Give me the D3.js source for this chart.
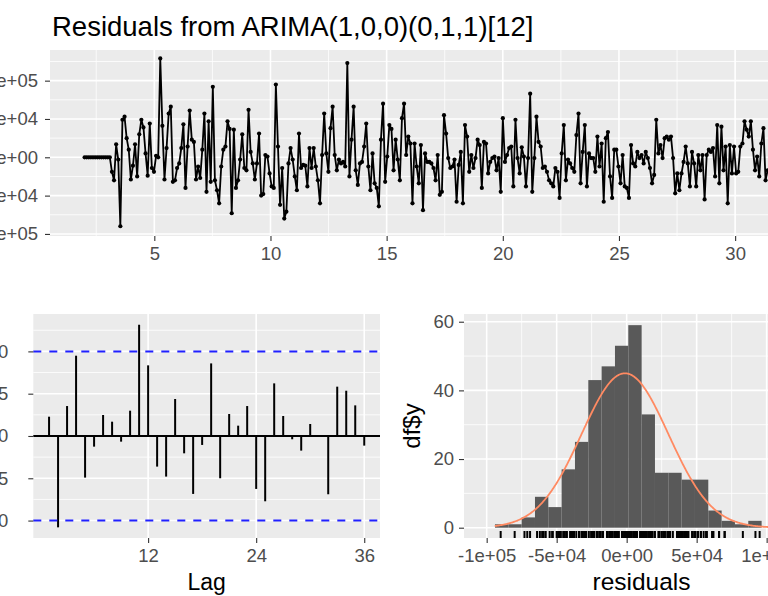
<!DOCTYPE html>
<html>
<head>
<meta charset="utf-8">
<script src="https://cdn.jsdelivr.net/npm/d3@7"></script>
<style>
  body { margin: 0; background: #fff; }
  svg { display: block; font-family: "Liberation Sans", Arial, sans-serif; }
</style>
</head>
<body>
<svg id="chart" width="768" height="596"></svg>
<script>
// ---------------- data ----------------
const residStart = 2;      // time of first residual (years)
const residEnd = 31.4;     // time of the last residual still visible
const residUnit = 1e4;     // residuals below are in units of 1e4
const resid = [
  0,0,0,0,0,0,0,0,0,0,0,0,0,
  -1.9,-3.0,1.7,-0.3,-9.0,4.9,5.3,2.5,1.0,-2.9,
  -1.1,1.7,-2.5,3.0,4.9,3.9,0.5,-2.4,4.4,-1.4,
  -1.9,0.2,0,12.9,4.1,-2.9,1.2,5.7,6.6,-3.2,
  -3.0,-1.4,-0.8,1.2,4.3,-4.0,1.4,6.1,2.3,2.0,
  -2.9,-1.2,-2.7,1.0,5.7,-4.5,4.7,-3.2,9.2,-3.0,
  -4.3,-6.0,-1.2,1.0,1.4,4.7,3.7,-7.3,3.6,-4.0,
  -3.0,-0.3,3.0,-1.4,-1.7,6.2,0.7,-0.8,-2.9,-0.8,
  3.1,-5.0,-4.8,0.3,0.1,-2.1,-3.8,-4.0,9.5,1.4,
  -6.2,-1.4,-8.0,-7.1,-0.8,1.2,-0.3,-2.5,-4.3,3.1,
  -1.4,-1.0,-1.1,-3.8,1.2,-1.4,1.2,-1.2,-3.0,-6.0,
  0.3,5.7,0.5,-1.9,3.8,6.6,0.3,-1.7,-0.3,-0.8,
  -0.6,-1.2,12.3,-2.5,2.3,6.6,-1.7,-3.6,-0.8,-0.6,
  1.4,4.4,-1.2,-4.3,0.5,-3.4,-4.0,-6.4,2.3,7.0,
  -3.2,0.1,4.2,3.7,-1.7,2.3,
  -0.3,-3.0,5.1,7.0,0.3,2.7,1.8,-6.0,1.8,-1.2,
  -3.4,1.6,-6.9,0.5,-0.6,-0.6,-0.8,-1.4,-3.0,0.3,
  -4.9,-4.5,5.5,3.1,-0.1,-1.4,-1.2,-0.3,-5.8,-1.0,
  0.7,-6.0,4.2,2.7,-1.9,0.3,-1.4,-0.1,2.3,1.6,
  -4.0,2.0,1.8,-2.1,-0.6,-0.1,0.1,-1.7,-0.1,-4.5,
  5.1,-0.6,0.3,1.2,1.4,-3.8,4.9,-0.1,-2.1,1.3,
  0.1,-3.8,-0.1,8.3,-4.5,-0.1,5.3,2.0,1.4,-1.4,
  -1.2,-1.9,-3.0,-3.4,-3.8,-1.4,-1.9,-5.3,0.5,4.2,
  -3.0,-0.3,-0.8,-1.4,-1.9,2.9,5.7,-3.4,0.7,4.2,
  -3.8,0.5,-0.1,-0.1,-1.9,2.7,-1.2,1.8,-5.8,2.5,
  3.3,-2.5,-5.3,1.0,1.0,-1.2,-3.4,0.3,-3.8,-4.0,
  -5.3,1.6,-0.8,-1.2,0.7,-0.1,0.3,-0.8,0.7,-0.1,
  -1.4,-3.4,-2.3,4.9,0.5,1.6,-0.1,2.5,2.7,2.3,
  2.7,-0.1,-4.7,-2.1,-4.3,-2.1,-0.6,1.4,-0.8,-3.8,
  0.7,-0.8,-3.8,0.3,-1.7,0.3,-5.5,0.3,1.0,0.7,
  1.2,-2.5,4.2,-3.4,4.0,-1.7,1.4,-6.0,1.6,-2.1,
  1.4,-2.1,-1.9,1.4,1.8,4.7,3.6,2.7,4.7,1.0,
  -1.7,0.1,-2.5,1.8,3.8,-3.0,-1.7
];
const topXTicks = [5, 10, 15, 20, 25, 30];
const topYTicks = [-1e5, -5e4, 0, 5e4, 1e5];
const topYLabels = ["-1e+05", "-5e+04", "0e+00", "5e+04", "1e+05"];

// acf at lags 1..36
const acfValues = [
  0.0228,-0.108,0.0354,0.0949,-0.0492,-0.0126,0.0248,0.0169,-0.0067,0.0299,
  0.1315,0.0835,-0.0362,-0.048,0.0437,-0.0205,-0.0685,-0.0106,0.0858,-0.05,
  0.026,0.0122,0.0354,-0.0626,-0.0772,0.0622,0.0236,-0.0039,-0.0173,0.0142,
  0.001,-0.0689,0.0583,0.0535,0.0362,-0.0114
];
const acfLimit = 0.1;
const acfXTicks = [12, 24, 36];
const acfYTicks = [-0.1, -0.05, 0, 0.05, 0.1];
const acfYLabels = ["-0.10", "-0.05", "0.00", "0.05", "0.10"];

const histStart = -94070;
const histWidth = 9524;
const histCounts = [1,1,3,9,6,17,25,43,47,53,59,33,16,16,14,14,5,2,1,2,0,0,1,1];
const normMean = -1200, normSd = 31000, normCount = 367;
const histXTicks = [-1e5, -5e4, 0, 5e4, 1e5];
const histXLabels = ["-1e+05", "-5e+04", "0e+00", "5e+04", "1e+05"];
const histYTicks = [0, 20, 40, 60];

// ---------------- drawing ----------------
const svg = d3.select("#chart");
const TICK = "#333333", LABEL = "#4d4d4d";

function mids(t) { // ggplot style minor breaks
  const step = t[1] - t[0];
  return d3.range(t.length + 1).map(i => t[0] - step / 2 + i * step);
}

function panel(x, y, xMaj, xMin, yMaj, yMin) {
  const g = svg.append("g");
  const [x0, x1] = x.range(), [y0, y1] = y.range();
  g.append("rect").attr("x", x0).attr("y", y1).attr("width", x1 - x0).attr("height", y0 - y1)
    .attr("fill", "#ebebeb");
  const inX = v => x(v) >= x0 && x(v) <= x1, inY = v => y(v) <= y0 && y(v) >= y1;
  [[xMin, yMin, 0.8], [xMaj, yMaj, 1.6]].forEach(([xs, ys, w]) => {
    g.selectAll(null).data(xs.filter(inX)).join("line")
      .attr("x1", d => x(d)).attr("x2", d => x(d)).attr("y1", y0).attr("y2", y1)
      .attr("stroke", "#fff").attr("stroke-width", w);
    g.selectAll(null).data(ys.filter(inY)).join("line")
      .attr("y1", d => y(d)).attr("y2", d => y(d)).attr("x1", x0).attr("x2", x1)
      .attr("stroke", "#fff").attr("stroke-width", w);
  });
  return g;
}

function styleAxis(g) {
  g.attr("font-family", null).attr("font-size", 18.5);
  g.select(".domain").remove();
  g.selectAll(".tick line").attr("stroke", TICK).attr("stroke-width", 1.1);
  g.selectAll(".tick text").attr("fill", LABEL);
}

// title
svg.append("text").attr("x", 52).attr("y", 36).attr("font-size", 27.5).attr("fill", "#000")
  .text("Residuals from ARIMA(1,0,0)(0,1,1)[12]");

// ---- top: residual time series ----
const tx = d3.scaleLinear().domain([0.51, 33.61]).range([50, 819]);
const ty = d3.scaleLinear().domain([-1.027e5, 1.40e5]).range([236, 50]);
panel(tx, ty, topXTicks, mids(topXTicks), topYTicks, mids(topYTicks));

const ti = d3.scaleLinear().domain([0, resid.length - 1]).range([residStart, residEnd]);
const series = resid.map((v, i) => ({ t: ti(i), v: v * residUnit }));

svg.append("path").datum(series)
  .attr("fill", "none").attr("stroke", "#000").attr("stroke-width", 1.8)
  .attr("stroke-linejoin", "round")
  .attr("d", d3.line().x(d => tx(d.t)).y(d => ty(d.v)));
svg.append("g").selectAll("circle").data(series).join("circle")
  .attr("cx", d => tx(d.t)).attr("cy", d => ty(d.v)).attr("r", 2.1).attr("fill", "#000");

svg.append("g").attr("transform", "translate(0,236)")
  .call(d3.axisBottom(tx).tickValues(topXTicks).tickFormat(d3.format("d")).tickSize(5).tickPadding(6))
  .call(styleAxis);
svg.append("g").attr("transform", "translate(50,0)")
  .call(d3.axisLeft(ty).tickValues(topYTicks).tickFormat((d, i) => topYLabels[i]).tickSize(5).tickPadding(7))
  .call(styleAxis);

// ---- bottom left: ACF ----
const ax = d3.scaleLinear().domain([-0.75, 37.75]).range([33.3, 380]);
const ay = d3.scaleLinear().domain([-0.1206, 0.1442]).range([538, 314]);
panel(ax, ay, acfXTicks, [], acfYTicks, mids(acfYTicks));

svg.append("line").attr("x1", 33.3).attr("x2", 380).attr("y1", ay(0)).attr("y2", ay(0))
  .attr("stroke", "#000").attr("stroke-width", 2);
svg.append("g").selectAll("line").data(acfValues).join("line")
  .attr("x1", (d, i) => ax(i + 1)).attr("x2", (d, i) => ax(i + 1))
  .attr("y1", ay(0)).attr("y2", d => ay(d))
  .attr("stroke", "#000").attr("stroke-width", 2);
svg.append("g").selectAll("line").data([acfLimit, -acfLimit]).join("line")
  .attr("x1", 33.3).attr("x2", 380).attr("y1", d => ay(d)).attr("y2", d => ay(d))
  .attr("stroke", "#2020ff").attr("stroke-width", 2).attr("stroke-dasharray", "8,8");

svg.append("g").attr("transform", "translate(0,538)")
  .call(d3.axisBottom(ax).tickValues(acfXTicks).tickSize(5).tickPadding(6))
  .call(styleAxis);
svg.append("g").attr("transform", "translate(33.3,0)")
  .call(d3.axisLeft(ay).tickValues(acfYTicks).tickFormat((d, i) => acfYLabels[i]).tickSize(5).tickPadding(20))
  .call(styleAxis);
svg.append("text").attr("x", (33.3 + 380) / 2).attr("y", 590).attr("text-anchor", "middle")
  .attr("font-size", 23).text("Lag");

// ---- bottom right: histogram ----
const hx = d3.scaleLinear().domain([-116200, 137400]).range([464, 819]);
const hy = d3.scaleLinear().domain([-3.0, 62.25]).range([538, 314]);
panel(hx, hy, histXTicks, mids(histXTicks), histYTicks, mids(histYTicks));

svg.append("g").selectAll("rect").data(histCounts).join("rect")
  .attr("x", (d, i) => hx(histStart + i * histWidth))
  .attr("width", hx(histWidth) - hx(0))
  .attr("y", d => hy(d)).attr("height", d => hy(0) - hy(d))
  .attr("fill", "#595959");

const vals = series.map(d => d.v);
const gx0 = Math.min(d3.min(vals), normMean - 3 * normSd);
const gx1 = Math.max(d3.max(vals), normMean + 3 * normSd);
const grid = d3.range(512).map(i => gx0 + i * (gx1 - gx0) / 511);
const dens = v => normCount * histWidth * Math.exp(-0.5 * ((v - normMean) / normSd) ** 2) / (normSd * Math.sqrt(2 * Math.PI));
svg.append("path").datum(grid)
  .attr("fill", "none").attr("stroke", "#ff8a62").attr("stroke-width", 1.8)
  .attr("d", d3.line().x(d => hx(d)).y(d => hy(dens(d))));

svg.append("g").selectAll("line").data(vals).join("line")
  .attr("x1", d => hx(d)).attr("x2", d => hx(d)).attr("y1", 538).attr("y2", 538 - 7)
  .attr("stroke", "#000").attr("stroke-width", 2);

svg.append("g").attr("transform", "translate(0,538)")
  .call(d3.axisBottom(hx).tickValues(histXTicks).tickFormat((d, i) => histXLabels[i]).tickSize(5).tickPadding(6))
  .call(styleAxis);
svg.append("g").attr("transform", "translate(464,0)")
  .call(d3.axisLeft(hy).tickValues(histYTicks).tickSize(5).tickPadding(5))
  .call(styleAxis);
svg.append("text").attr("x", (464 + 819) / 2).attr("y", 590).attr("text-anchor", "middle")
  .attr("font-size", 24.5).text("residuals");
svg.append("text").attr("transform", "translate(420,426) rotate(-90)").attr("text-anchor", "middle")
  .attr("font-size", 24).text("df$y");
</script>
</body>
</html>
